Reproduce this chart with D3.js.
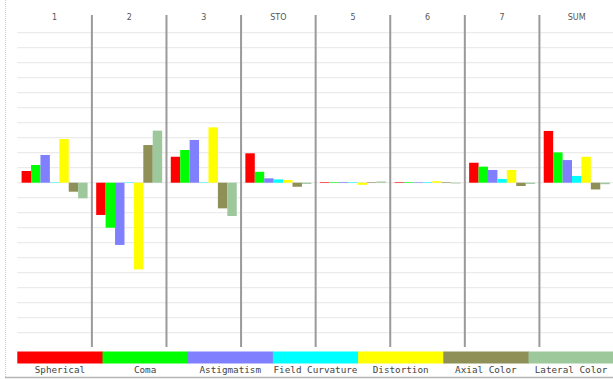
<!DOCTYPE html>
<html>
<head>
<meta charset="utf-8">
<script src="https://cdn.jsdelivr.net/npm/d3@7"></script>
<style>
  html, body { margin: 0; padding: 0; background: #fff; }
  svg { display: block; }
</style>
</head>
<body>
<svg id="chart" width="613" height="379"></svg>
<script>
  // surfaces (panels) and aberration kinds
  const surfaces = ['1', '2', '3', 'STO', '5', '6', '7', 'SUM'];
  const aberrations = ['Spherical', 'Coma', 'Astigmatism', 'Field Curvature', 'Distortion', 'Axial Color', 'Lateral Color'];
  const colors = ['#ff0000', '#00ff00', '#8080ff', '#00ffff', '#ffff00', '#8f8f58', '#9cc89c'];

  // values per surface, one per aberration (scale -1..1 over the plot height)
  const vals1 = [0.078, 0.118, 0.185, 0.003, 0.291, -0.060, -0.104];
  const vals2 = [-0.215, -0.300, -0.415, 0.003, -0.578, 0.251, 0.347];
  const vals3 = [0.173, 0.218, 0.285, 0.003, 0.369, -0.171, -0.222];
  const valsSTO = [0.196, 0.073, 0.029, 0.022, 0.018, -0.027, -0.008];
  const vals5 = [0.004, 0.004, 0.005, 0.004, -0.014, 0.004, 0.008];
  const vals6 = [0.004, 0.004, 0.004, 0.004, 0.010, 0.004, -0.005];
  const vals7 = [0.133, 0.107, 0.085, 0.025, 0.085, -0.022, -0.008];
  const valsSUM = [0.345, 0.202, 0.151, 0.045, 0.173, -0.045, -0.010];
  const allVals = [vals1, vals2, vals3, valsSTO, vals5, vals6, vals7, valsSUM];

  const gridTicks = d3.range(-10, 11).map(function (i) { return i / 10; });

  const svg = d3.select('#chart');
  const left = 17.3, right = 614;

  const x = d3.scaleBand().domain(surfaces).range([left, right]);
  const xi = d3.scaleBand().domain(aberrations).range([4.3, x.bandwidth() - 4.3]);
  const y = d3.scaleLinear().domain([-1, 1]).range([332.7, 32.7]);

  // frame on the left and bottom
  svg.append('line')
    .attr('x1', 5.5).attr('x2', 5.5).attr('y1', 0).attr('y2', 378)
    .attr('stroke', '#cfcfcf').attr('stroke-dasharray', '1,1');
  svg.append('line')
    .attr('x1', 5).attr('x2', 613).attr('y1', 377.5).attr('y2', 377.5)
    .attr('stroke', '#b5b5b5').attr('stroke-width', 1.5);

  // horizontal grid
  svg.append('g').selectAll('line')
    .data(gridTicks)
    .join('line')
    .attr('x1', left).attr('x2', 613)
    .attr('y1', function (d) { return y(d); })
    .attr('y2', function (d) { return y(d); })
    .attr('stroke', '#ebebeb')
    .attr('stroke-width', 1.3);

  // panel headers
  svg.append('g').selectAll('text')
    .data(surfaces)
    .join('text')
    .attr('x', function (d) { return x(d) + x.bandwidth() / 2; })
    .attr('y', 19.5)
    .attr('text-anchor', 'middle')
    .attr('font-family', 'DejaVu Sans, sans-serif')
    .attr('font-size', 8)
    .attr('fill', '#555')
    .text(function (d) { return d; });

  // bars
  const panels = svg.append('g').selectAll('g')
    .data(surfaces)
    .join('g')
    .attr('transform', function (d) { return 'translate(' + x(d) + ',0)'; });

  panels.selectAll('rect')
    .data(function (d, i) {
      return allVals[i].map(function (v, j) { return { ab: aberrations[j], v: v, c: colors[j] }; });
    })
    .join('rect')
    .attr('x', function (d) { return xi(d.ab); })
    .attr('width', xi.bandwidth())
    .attr('y', function (d) { return Math.min(y(d.v), y(0)); })
    .attr('height', function (d) { return Math.abs(y(d.v) - y(0)); })
    .attr('fill', function (d) { return d.c; });

  // panel dividers
  svg.append('g').selectAll('line')
    .data(surfaces.slice(1))
    .join('line')
    .attr('x1', function (d) { return x(d); })
    .attr('x2', function (d) { return x(d); })
    .attr('y1', 15).attr('y2', 347)
    .attr('stroke', '#9a9a9a')
    .attr('stroke-width', 2);

  // legend
  const lx = d3.scaleBand().domain(aberrations).range([left, 613.7]);
  const legend = svg.append('g').selectAll('g')
    .data(aberrations)
    .join('g')
    .attr('transform', function (d) { return 'translate(' + lx(d) + ',0)'; });
  legend.append('rect')
    .attr('x', 0).attr('y', 351.5)
    .attr('width', lx.bandwidth() + 0.5).attr('height', 12)
    .attr('fill', function (d, i) { return colors[i]; });
  legend.append('text')
    .attr('x', lx.bandwidth() / 2)
    .attr('y', 373)
    .attr('text-anchor', 'middle')
    .attr('font-family', 'DejaVu Sans Mono, monospace')
    .attr('font-size', 9.3)
    .attr('fill', '#444')
    .text(function (d) { return d; });
</script>
</body>
</html>
